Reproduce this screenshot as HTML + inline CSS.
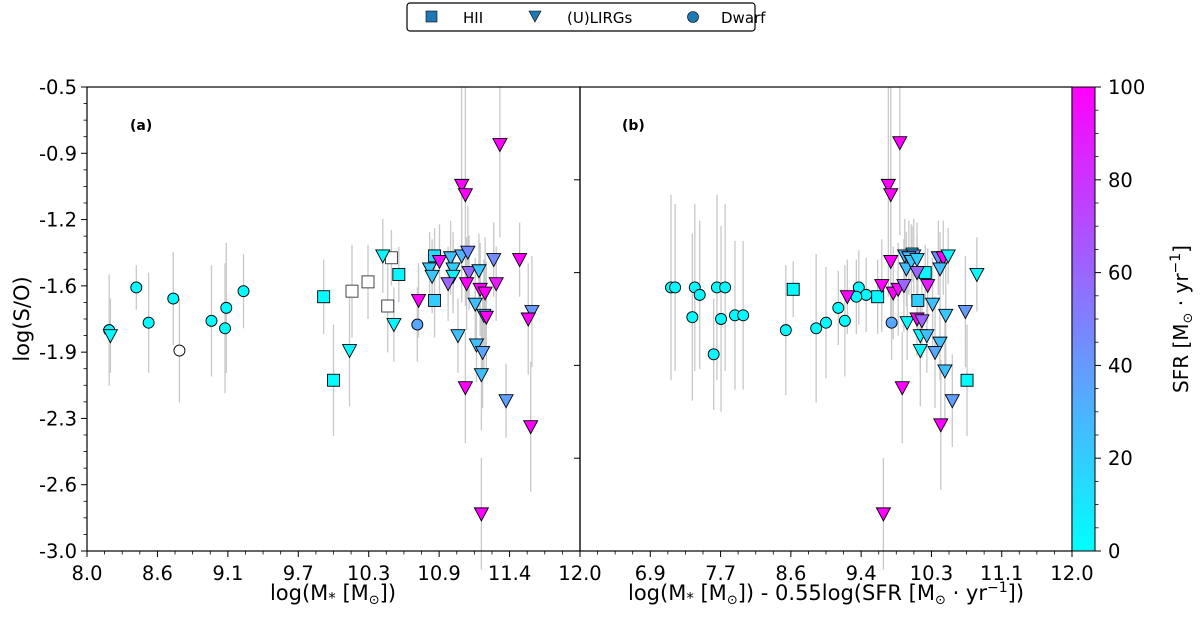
<!DOCTYPE html>
<html><head><meta charset="utf-8">
<style>
html,body{margin:0;padding:0;background:#fff;}
svg{display:block;font-family:"DejaVu Sans","Liberation Sans",sans-serif;}
</style></head>
<body>
<svg id="chart" width="1200" height="639" viewBox="0 0 1200 639" xmlns="http://www.w3.org/2000/svg">
<defs>
<linearGradient id="cool" x1="0" y1="1" x2="0" y2="0">
<stop offset="0" stop-color="#00ffff"/><stop offset="1" stop-color="#ff00ff"/>
</linearGradient>
</defs>
<g>
<rect x="407" y="3" width="348" height="28" rx="3" fill="#fff" stroke="#000" stroke-width="1.2"/>
<rect x="426" y="11" width="11" height="11" fill="#1f77b4" stroke="#000" stroke-width="0.6"/>
<text x="463" y="23" font-size="15">HII</text>
<polygon points="529,11 541,11 535,22" fill="#1f77b4" stroke="#000" stroke-width="0.6"/>
<text x="567" y="23" font-size="15">(U)LIRGs</text>
<circle cx="693" cy="17" r="5.5" fill="#1f77b4" stroke="#000" stroke-width="0.6"/>
<text x="721" y="23" font-size="15">Dwarf</text>
</g>
<g id="plots"></g>
</svg>
<script>
// ---- data: [x, log(S/O), SFR (null = no SFR), yerr] ----
const panelADwarf = [[8.18,-1.81,2,0.3],[8.40,-1.58,2,0.12],[8.50,-1.77,2,0.27],[8.70,-1.64,2,0.25],[8.75,-1.92,null,0.28],[9.01,-1.76,2,0.3],[9.13,-1.69,2,0.35],[9.12,-1.80,2,0.35],[9.27,-1.60,2,0.2],[10.68,-1.78,35,0.2]];
const panelAHII = [[9.92,-1.63,2,0.2],[10.00,-2.08,2,0.3],[10.53,-1.51,3,0.15],[10.82,-1.65,20,0.2],[10.82,-1.41,15,0.15]];
const panelAHIIopen = [[10.15,-1.60,null,0.25],[10.28,-1.55,null,0.2],[10.47,-1.42,null,0.15],[10.44,-1.68,null,0.25]];
const panelAULIRG = [[8.19,-1.84,2,0.2],[10.13,-1.92,2,0.3],[10.40,-1.41,3,0.2],[10.49,-1.78,3,0.2],[10.69,-1.65,100,0.2],[10.78,-1.48,22,0.2],[10.80,-1.52,22,0.2],[10.86,-1.44,95,0.2],[10.95,-1.42,25,0.2],[10.97,-1.48,20,0.2],[10.97,-1.52,5,0.2],[10.93,-1.56,60,0.2],[11.04,-1.41,30,0.25],[11.09,-1.39,45,0.25],[11.10,-1.50,60,0.2],[11.18,-1.49,22,0.2],[11.08,-1.56,100,0.25],[11.19,-1.59,100,0.25],[11.23,-1.61,100,0.3],[11.30,-1.43,45,0.2],[11.32,-1.56,90,0.2],[11.51,-1.43,100,0.2],[11.15,-1.67,25,0.25],[11.22,-1.73,22,0.3],[11.24,-1.74,100,0.3],[11.61,-1.71,40,0.3],[11.58,-1.75,100,0.3],[11.01,-1.84,25,0.2],[11.16,-1.89,25,0.2],[11.21,-1.93,35,0.3],[11.20,-2.05,25,0.3],[11.07,-2.12,100,0.3],[11.40,-2.19,38,0.2],[11.60,-2.33,100,0.35],[11.20,-2.80,100,0.3],[11.04,-1.03,100,0.6],[11.07,-1.08,100,0.6],[11.35,-0.81,100,0.5]];
const panelBDwarf = [[7.11,-1.58,2,0.5],[7.16,-1.58,2,0.45],[7.40,-1.58,2,0.45],[7.46,-1.62,2,0.4],[7.67,-1.58,2,0.5],[7.77,-1.58,2,0.45],[7.37,-1.74,2,0.45],[7.72,-1.75,2,0.5],[7.89,-1.73,2,0.4],[7.99,-1.73,2,0.4],[7.63,-1.94,2,0.3],[8.51,-1.81,2,0.35],[8.88,-1.80,2,0.4],[9.00,-1.77,2,0.3],[9.15,-1.69,2,0.2],[9.23,-1.76,2,0.3],[9.40,-1.58,2,0.2],[9.49,-1.62,2,0.2],[9.37,-1.63,2,0.2],[9.80,-1.77,35,0.2]];
const panelBHII = [[8.60,-1.59,2,0.15],[9.63,-1.63,2,0.2],[10.05,-1.40,15,0.15],[10.12,-1.65,20,0.2],[10.21,-1.50,3,0.15],[10.72,-2.08,2,0.3]];
const panelBULIRG = [[9.26,-1.63,100,0.2],[9.90,-0.80,100,0.5],[9.76,-1.03,100,0.6],[9.79,-1.08,100,0.6],[9.79,-1.44,100,0.3],[9.68,-1.57,100,0.25],[9.82,-1.61,100,0.25],[9.88,-1.59,95,0.25],[9.95,-1.57,60,0.25],[9.96,-1.41,30,0.2],[10.07,-1.41,45,0.2],[10.01,-1.42,25,0.2],[9.98,-1.48,25,0.2],[10.04,-1.44,22,0.2],[10.11,-1.43,20,0.2],[10.11,-1.50,60,0.2],[10.24,-1.57,90,0.2],[10.37,-1.42,45,0.2],[10.43,-1.42,100,0.2],[10.49,-1.41,5,0.15],[10.39,-1.48,25,0.2],[10.30,-1.67,25,0.25],[10.46,-1.73,22,0.3],[10.70,-1.71,40,0.3],[9.99,-1.77,3,0.2],[10.11,-1.75,100,0.2],[10.17,-1.76,60,0.2],[10.15,-1.84,3,0.2],[10.23,-1.84,25,0.2],[10.39,-1.88,25,0.2],[10.33,-1.93,35,0.3],[10.15,-1.92,3,0.3],[10.45,-2.03,25,0.3],[10.54,-2.19,38,0.25],[9.93,-2.12,100,0.3],[10.40,-2.32,100,0.35],[9.70,-2.80,100,0.3],[10.84,-1.51,3,0.2]];
const yTickLabelsA = ["-0.5","-0.9","-1.2","-1.6","-1.9","-2.3","-2.6","-3.0"];
const xTickLabelsA = ["8.0","8.6","9.1","9.7","10.3","10.9","11.4","12.0"];
const xTickLabelsB = ["","6.9","7.7","8.6","9.4","10.3","11.1","12.0"];
const yTicksB = [-1.0,-1.5,-2.0,-2.5];
const cbarTicks = [0,20,40,60,80,100];

const NS="http://www.w3.org/2000/svg";
const root=document.getElementById('plots');
function mk(tag,attrs,parent){const e=document.createElementNS(NS,tag);for(const k in attrs)e.setAttribute(k,attrs[k]);(parent||root).appendChild(e);return e;}
const TOP=87,BOT=551,YMIN=-3.0,YMAX=-0.5;
function ys(v){return BOT-(v-YMIN)/(YMAX-YMIN)*(BOT-TOP);}
function cool(s){const t=Math.max(0,Math.min(1,s/100));return `rgb(${Math.round(255*t)},${Math.round(255*(1-t))},255)`;}

function panel(name,L,R,xmin,xmax,xl,dwarf,hii,hiiOpen,ulirg){
  const xs=v=>L+(v-xmin)/(xmax-xmin)*(R-L);
  const g=mk('g',{});
  
  
  const all=[...dwarf,...hii,...hiiOpen,...ulirg];
  for(const p of all){
    const l=mk('line',{x1:xs(p[0]),x2:xs(p[0]),y1:ys(p[1]-p[3]),y2:ys(Math.min(YMAX,p[1]+p[3])),stroke:'#c8c8c8','stroke-width':1.3},g);
    
    
  }
  for(const p of dwarf){
    const c=mk('circle',{cx:xs(p[0]),cy:ys(p[1]),r:5.5,fill:p[2]==null?'#fff':cool(p[2]),stroke:'#000','stroke-width':0.9},g);
    
    
  }
  for(const p of hii.concat(hiiOpen)){
    const s=mk('rect',{x:xs(p[0])-6,y:ys(p[1])-6,width:12,height:12,fill:p[2]==null?'#fff':cool(p[2]),stroke:p[2]==null?'#333':'#000','stroke-width':0.9},g);
    
    
  }
  for(const p of ulirg){
    const x=xs(p[0]),y=ys(p[1]);
    const t=mk('polygon',{points:`${x-7},${y-6} ${x+7},${y-6} ${x},${y+7}`,fill:cool(p[2]),stroke:'#000','stroke-width':0.9},g);
    
    
  }
  const f=mk('rect',{x:L,y:TOP,width:R-L,height:BOT-TOP,fill:'none',stroke:'#000','stroke-width':1.2},g);
  
  
  for(let i=0;i<8;i++){
    const v=xmin+i*(xmax-xmin)/7, x=xs(v);
    mk('line',{x1:x,x2:x,y1:BOT,y2:BOT+6,stroke:'#000','stroke-width':1},g);
    for(let j=1;j<4&&i<7;j++){const xm=xs(v+j*(xmax-xmin)/28);mk('line',{x1:xm,x2:xm,y1:BOT,y2:BOT+3.5,stroke:'#000','stroke-width':0.8},g);}
    if(xl[i]){const tx=mk('text',{x:x,y:BOT+29,'font-size':19.5,'text-anchor':'middle'},g);tx.textContent=xl[i];
      
      }
  }
  return xs;
}
panel('panel-a',87,580,8,12,xTickLabelsA,panelADwarf,panelAHII,panelAHIIopen,panelAULIRG);
panel('panel-b',580,1072,6,12,xTickLabelsB,panelBDwarf,panelBHII,[],panelBULIRG);
for(let i=0;i<8;i++){
  const v=YMAX-i*(YMAX-YMIN)/7,y=ys(v);
  mk('line',{x1:81,x2:87,y1:y,y2:y,stroke:'#000','stroke-width':1});
  for(let j=1;j<4&&i<7;j++){const ym=ys(v-j*(YMAX-YMIN)/28);mk('line',{x1:83.5,x2:87,y1:ym,y2:ym,stroke:'#000','stroke-width':0.8});}
  const t=mk('text',{x:77,y:y+7,'font-size':19.5,'text-anchor':'end'});t.textContent=yTickLabelsA[i];
  
  
}
for(const v of yTicksB){const y=ys(v);mk('line',{x1:574,x2:580,y1:y,y2:y,stroke:'#000','stroke-width':1});}
let t=mk('text',{x:0,y:0,'font-size':21,'text-anchor':'middle',transform:'translate(29,319) rotate(-90)'});t.textContent='log(S/O)';

t=mk('text',{x:333,y:600,'font-size':21,'text-anchor':'middle'});t.innerHTML='log(M<tspan font-size="15" dy="3">*</tspan><tspan dy="-3"> [M</tspan><tspan font-size="13" dy="4">⊙</tspan><tspan dy="-4">])</tspan>';

t=mk('text',{x:826,y:600,'font-size':21,'text-anchor':'middle'});t.innerHTML='log(M<tspan font-size="15" dy="3">*</tspan><tspan dy="-3"> [M</tspan><tspan font-size="13" dy="4">⊙</tspan><tspan dy="-4">]) - 0.55log(SFR [M</tspan><tspan font-size="13" dy="4">⊙</tspan><tspan dy="-4"> · yr</tspan><tspan font-size="14" dy="-8">−1</tspan><tspan dy="8">])</tspan>';

t=mk('text',{x:130,y:130,'font-size':14,'font-weight':'bold'});t.textContent='(a)';

t=mk('text',{x:622,y:130,'font-size':14,'font-weight':'bold'});t.textContent='(b)';

const cb=mk('rect',{x:1072,y:TOP,width:23,height:BOT-TOP,fill:'url(#cool)',stroke:'#000','stroke-width':1});

const cy=v=>BOT-v/100*(BOT-TOP);
for(let v=0;v<=100;v+=5){const y=cy(v);mk('line',{x1:1095,x2:1095+(v%20===0?6:3.5),y1:y,y2:y,stroke:'#000','stroke-width':v%20===0?1:0.8});}
for(const v of cbarTicks){const tt=mk('text',{x:1108,y:cy(v)+7,'font-size':19.5});tt.textContent=v;
  }
t=mk('text',{x:0,y:0,'font-size':20,'text-anchor':'middle',transform:'translate(1188,319) rotate(-90)'});
t.innerHTML='SFR [M<tspan font-size="13" dy="4">⊙</tspan><tspan dy="-4"> · yr</tspan><tspan font-size="14" dy="-8">−1</tspan><tspan dy="8">]</tspan>';

</script>
</body></html>
